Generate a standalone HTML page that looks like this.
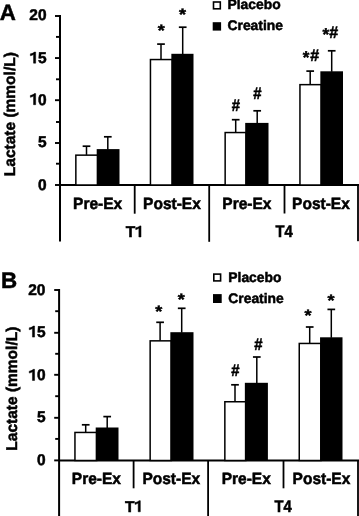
<!DOCTYPE html>
<html><head><meta charset="utf-8"><title>Lactate chart</title>
<style>html,body{margin:0;padding:0;background:#fff;width:359px;height:516px;overflow:hidden}
text{font-family:"Liberation Sans", sans-serif;fill:#000;stroke:#000;stroke-width:0.5px;text-rendering:geometricPrecision}</style></head>
<body>
<div style="filter:grayscale(1);width:359px;height:516px">
<svg width="359" height="516" viewBox="0 0 359 516" style="display:block">
<rect width="359" height="516" fill="#fff"/>
<rect x="59" y="15" width="2" height="226.5" fill="#000"/>
<rect x="55.00" y="184.05" width="5.00" height="1.9" fill="#000"/>
<rect x="56.00" y="162.75" width="4.00" height="1.9" fill="#000"/>
<rect x="55.00" y="142.05" width="5.00" height="1.9" fill="#000"/>
<rect x="56.00" y="121.05" width="4.00" height="1.9" fill="#000"/>
<rect x="55.00" y="99.25" width="5.00" height="1.9" fill="#000"/>
<rect x="56.00" y="78.35" width="4.00" height="1.9" fill="#000"/>
<rect x="55.00" y="57.10" width="5.00" height="1.9" fill="#000"/>
<rect x="56.00" y="35.95" width="4.00" height="1.9" fill="#000"/>
<rect x="55.00" y="15.05" width="5.00" height="1.9" fill="#000"/>
<rect x="60" y="184" width="299.5" height="2" fill="#000"/>
<rect x="133.80" y="185" width="1.8" height="28.70" fill="#000"/>
<rect x="208.30" y="185" width="1.8" height="56.80" fill="#000"/>
<rect x="283.60" y="185" width="1.8" height="28.50" fill="#000"/>
<rect x="357.10" y="185" width="1.8" height="56.20" fill="#000"/>
<rect x="75.85" y="155.15" width="21.85" height="29.85" fill="#fff" stroke="#000" stroke-width="1.5"/>
<rect x="96.70" y="149.10" width="22.80" height="35.90" fill="#000"/>
<rect x="85.75" y="146.20" width="1.5" height="8.70" fill="#000"/>
<rect x="82.65" y="145.35" width="7.7" height="1.7" fill="#000"/>
<rect x="107.05" y="136.80" width="1.5" height="12.80" fill="#000"/>
<rect x="103.95" y="135.95" width="7.7" height="1.7" fill="#000"/>
<rect x="150.45" y="59.55" width="21.90" height="125.45" fill="#fff" stroke="#000" stroke-width="1.5"/>
<rect x="171.35" y="53.80" width="22.15" height="131.20" fill="#000"/>
<rect x="160.25" y="44.10" width="1.5" height="15.20" fill="#000"/>
<rect x="157.15" y="43.25" width="7.7" height="1.7" fill="#000"/>
<rect x="181.95" y="27.20" width="1.5" height="27.10" fill="#000"/>
<rect x="178.85" y="26.35" width="7.7" height="1.7" fill="#000"/>
<rect x="225.15" y="132.55" width="21.05" height="52.45" fill="#fff" stroke="#000" stroke-width="1.5"/>
<rect x="245.20" y="122.90" width="23.30" height="62.10" fill="#000"/>
<rect x="234.95" y="119.70" width="1.5" height="12.60" fill="#000"/>
<rect x="231.85" y="118.85" width="7.7" height="1.7" fill="#000"/>
<rect x="256.45" y="110.80" width="1.5" height="12.60" fill="#000"/>
<rect x="253.35" y="109.95" width="7.7" height="1.7" fill="#000"/>
<rect x="299.95" y="84.65" width="21.40" height="100.35" fill="#fff" stroke="#000" stroke-width="1.5"/>
<rect x="320.35" y="71.30" width="22.65" height="113.70" fill="#000"/>
<rect x="309.45" y="71.10" width="1.5" height="13.30" fill="#000"/>
<rect x="306.35" y="70.25" width="7.7" height="1.7" fill="#000"/>
<rect x="330.95" y="50.80" width="1.5" height="21.00" fill="#000"/>
<rect x="327.85" y="49.95" width="7.7" height="1.7" fill="#000"/>
<rect x="58.1" y="289" width="2" height="227" fill="#000"/>
<rect x="54.20" y="459.45" width="4.90" height="1.9" fill="#000"/>
<rect x="55.20" y="437.95" width="3.90" height="1.9" fill="#000"/>
<rect x="54.20" y="416.85" width="4.90" height="1.9" fill="#000"/>
<rect x="55.20" y="395.25" width="3.90" height="1.9" fill="#000"/>
<rect x="54.20" y="373.85" width="4.90" height="1.9" fill="#000"/>
<rect x="55.20" y="352.85" width="3.90" height="1.9" fill="#000"/>
<rect x="54.20" y="331.85" width="4.90" height="1.9" fill="#000"/>
<rect x="55.20" y="310.25" width="3.90" height="1.9" fill="#000"/>
<rect x="54.20" y="289.05" width="4.90" height="1.9" fill="#000"/>
<rect x="59.1" y="459.5" width="300.4" height="2" fill="#000"/>
<rect x="132.70" y="460.5" width="1.8" height="27.80" fill="#000"/>
<rect x="207.20" y="460.5" width="1.8" height="55.50" fill="#000"/>
<rect x="282.60" y="460.5" width="1.8" height="27.80" fill="#000"/>
<rect x="357.10" y="460.5" width="1.8" height="55.50" fill="#000"/>
<rect x="74.95" y="432.45" width="21.75" height="28.05" fill="#fff" stroke="#000" stroke-width="1.5"/>
<rect x="95.70" y="427.50" width="22.80" height="33.00" fill="#000"/>
<rect x="84.95" y="424.80" width="1.5" height="7.40" fill="#000"/>
<rect x="81.85" y="423.95" width="7.7" height="1.7" fill="#000"/>
<rect x="106.45" y="416.60" width="1.5" height="11.40" fill="#000"/>
<rect x="103.35" y="415.75" width="7.7" height="1.7" fill="#000"/>
<rect x="150.15" y="340.85" width="21.20" height="119.65" fill="#fff" stroke="#000" stroke-width="1.5"/>
<rect x="170.35" y="332.20" width="23.15" height="128.30" fill="#000"/>
<rect x="159.35" y="322.30" width="1.5" height="18.30" fill="#000"/>
<rect x="156.25" y="321.45" width="7.7" height="1.7" fill="#000"/>
<rect x="180.95" y="308.30" width="1.5" height="24.40" fill="#000"/>
<rect x="177.85" y="307.45" width="7.7" height="1.7" fill="#000"/>
<rect x="224.85" y="401.75" width="21.00" height="58.75" fill="#fff" stroke="#000" stroke-width="1.5"/>
<rect x="244.85" y="382.80" width="23.05" height="77.70" fill="#000"/>
<rect x="234.25" y="384.80" width="1.5" height="16.70" fill="#000"/>
<rect x="231.15" y="383.95" width="7.7" height="1.7" fill="#000"/>
<rect x="256.05" y="357.00" width="1.5" height="26.30" fill="#000"/>
<rect x="252.95" y="356.15" width="7.7" height="1.7" fill="#000"/>
<rect x="299.25" y="343.45" width="21.80" height="117.05" fill="#fff" stroke="#000" stroke-width="1.5"/>
<rect x="320.05" y="337.30" width="22.45" height="123.20" fill="#000"/>
<rect x="308.95" y="327.00" width="1.5" height="16.20" fill="#000"/>
<rect x="305.85" y="326.15" width="7.7" height="1.7" fill="#000"/>
<rect x="330.55" y="309.40" width="1.5" height="28.40" fill="#000"/>
<rect x="327.45" y="308.55" width="7.7" height="1.7" fill="#000"/>
<text x="46.6" y="190.10" font-size="15.5" font-weight="bold" text-anchor="end" >0</text>
<text x="46.6" y="147.15" font-size="15.5" font-weight="bold" text-anchor="end" >5</text>
<text x="46.6" y="104.70" font-size="15.5" font-weight="bold" text-anchor="end" >0</text>
<path d="M35.67,104.70 L35.67,93.60 L34.29,93.60 C33.86,94.47 32.46,95.09 30.37,95.40 L30.37,97.34 C31.53,97.11 32.77,96.64 33.55,96.02 L33.55,104.70 Z" fill="#000" stroke="#000" stroke-width="0.5"/>
<text x="46.6" y="63.15" font-size="15.5" font-weight="bold" text-anchor="end" >5</text>
<path d="M35.67,63.15 L35.67,52.05 L34.29,52.05 C33.86,52.92 32.46,53.54 30.37,53.85 L30.37,55.79 C31.53,55.56 32.77,55.09 33.55,54.47 L33.55,63.15 Z" fill="#000" stroke="#000" stroke-width="0.5"/>
<text x="46.6" y="20.00" font-size="15.5" font-weight="bold" text-anchor="end" >20</text>
<text x="0" y="0" font-size="15.5" font-weight="bold" text-anchor="middle" transform="translate(14.9,114.2) rotate(-90)">Lactate (mmol/L)</text>
<rect x="213.50" y="2.00" width="6.8" height="6.8" fill="#fff" stroke="#000" stroke-width="1.6"/>
<rect x="212.7" y="22.20" width="8.4" height="8.4" fill="#000"/>
<text x="227.5" y="9.200000000000001" font-size="13.85" font-weight="bold" text-anchor="start" >Placebo</text>
<text x="227.5" y="30.0" font-size="13.85" font-weight="bold" text-anchor="start" >Creatine</text>
<text x="45.5" y="464.70" font-size="15.5" font-weight="bold" text-anchor="end" >0</text>
<text x="45.5" y="422.07" font-size="15.5" font-weight="bold" text-anchor="end" >5</text>
<text x="45.5" y="380.45" font-size="15.5" font-weight="bold" text-anchor="end" >0</text>
<path d="M34.57,380.45 L34.57,369.35 L33.19,369.35 C32.76,370.22 31.36,370.84 29.27,371.15 L29.27,373.09 C30.43,372.85 31.67,372.39 32.45,371.77 L32.45,380.45 Z" fill="#000" stroke="#000" stroke-width="0.5"/>
<text x="45.5" y="337.12" font-size="15.5" font-weight="bold" text-anchor="end" >5</text>
<path d="M34.57,337.12 L34.57,326.03 L33.19,326.03 C32.76,326.89 31.36,327.51 29.27,327.82 L29.27,329.76 C30.43,329.53 31.67,329.06 32.45,328.44 L32.45,337.12 Z" fill="#000" stroke="#000" stroke-width="0.5"/>
<text x="45.5" y="294.70" font-size="15.5" font-weight="bold" text-anchor="end" >20</text>
<text x="0" y="0" font-size="15.5" font-weight="bold" text-anchor="middle" transform="translate(17.1,388.7) rotate(-90)">Lactate (mmol/L)</text>
<rect x="213.80" y="274.10" width="6.8" height="6.8" fill="#fff" stroke="#000" stroke-width="1.6"/>
<rect x="213.0" y="294.10" width="8.7" height="8.9" fill="#000"/>
<text x="228.3" y="281.59999999999997" font-size="13.85" font-weight="bold" text-anchor="start" >Placebo</text>
<text x="228.3" y="302.7" font-size="13.85" font-weight="bold" text-anchor="start" >Creatine</text>
<text x="0" y="0" font-size="15.5" font-weight="bold" text-anchor="middle" transform="translate(97.65,209.1) scale(1,1.05)">Pre-Ex</text>
<text x="0" y="0" font-size="15.5" font-weight="bold" text-anchor="middle" transform="translate(171.95,209.1) scale(1,1.05)">Post-Ex</text>
<text x="0" y="0" font-size="15.5" font-weight="bold" text-anchor="middle" transform="translate(246.85,209.1) scale(1,1.05)">Pre-Ex</text>
<text x="0" y="0" font-size="15.5" font-weight="bold" text-anchor="middle" transform="translate(320.95,209.1) scale(1,1.05)">Post-Ex</text>
<text x="0" y="0" font-size="15.5" font-weight="bold" transform="translate(125.70,237.0) scale(1,1.0)">T</text>
<path d="M141.01,237.00 L141.01,225.90 L139.63,225.90 C139.19,226.77 137.80,227.39 135.71,227.70 L135.71,229.64 C136.87,229.41 138.11,228.94 138.88,228.32 L138.88,237.00 Z" fill="#000" stroke="#000" stroke-width="0.5"/>
<text x="0" y="0" font-size="15.5" font-weight="bold" text-anchor="middle" transform="translate(284.10,237.0) scale(0.95,1.08)">T4</text>
<text x="0" y="0" font-size="15.5" font-weight="bold" text-anchor="middle" transform="translate(96.35,484.3) scale(1,1.05)">Pre-Ex</text>
<text x="0" y="0" font-size="15.5" font-weight="bold" text-anchor="middle" transform="translate(171.25,484.3) scale(1,1.05)">Post-Ex</text>
<text x="0" y="0" font-size="15.5" font-weight="bold" text-anchor="middle" transform="translate(246.25,484.3) scale(1,1.05)">Pre-Ex</text>
<text x="0" y="0" font-size="15.5" font-weight="bold" text-anchor="middle" transform="translate(321.45,484.3) scale(1,1.05)">Post-Ex</text>
<text x="0" y="0" font-size="15.5" font-weight="bold" transform="translate(124.90,511.8) scale(1,1.0)">T</text>
<path d="M140.31,511.80 L140.31,500.70 L138.93,500.70 C138.50,501.57 137.10,502.19 135.01,502.50 L135.01,504.44 C136.17,504.20 137.41,503.74 138.19,503.12 L138.19,511.80 Z" fill="#000" stroke="#000" stroke-width="0.5"/>
<text x="0" y="0" font-size="15.5" font-weight="bold" text-anchor="middle" transform="translate(283.20,511.8) scale(0.95,1.08)">T4</text>
<text x="-0.2" y="19.6" font-size="22.3" font-weight="bold" text-anchor="start" >A</text>
<text x="0.9" y="288.2" font-size="22.4" font-weight="bold" text-anchor="start" >B</text>
<text x="0" y="0" font-size="18" font-weight="bold" text-anchor="middle" transform="translate(161.2,35.8) scale(1,0.92)">*</text>
<text x="0" y="0" font-size="18" font-weight="bold" text-anchor="middle" transform="translate(182.5,19.9) scale(1,0.92)">*</text>
<text x="0" y="0" font-size="16" font-weight="bold" text-anchor="middle" transform="translate(236.0,111.1) scale(0.93,1.05)">#</text>
<text x="0" y="0" font-size="16" font-weight="bold" text-anchor="middle" transform="translate(257.3,99.4) scale(0.93,1.05)">#</text>
<text x="306.0" y="63.2" font-size="17" font-weight="bold" text-anchor="middle" >*</text>
<text x="0" y="0" font-size="16" font-weight="bold" text-anchor="middle" transform="translate(314.6,61.3) scale(1.0,1.05)">#</text>
<text x="325.7" y="40.0" font-size="17" font-weight="bold" text-anchor="middle" >*</text>
<text x="0" y="0" font-size="16" font-weight="bold" text-anchor="middle" transform="translate(333.7,37.5) scale(1.0,1.05)">#</text>
<text x="0" y="0" font-size="18" font-weight="bold" text-anchor="middle" transform="translate(158.7,317.3) scale(1,0.92)">*</text>
<text x="0" y="0" font-size="18" font-weight="bold" text-anchor="middle" transform="translate(181.3,304.6) scale(1,0.92)">*</text>
<text x="0" y="0" font-size="16" font-weight="bold" text-anchor="middle" transform="translate(235.5,375.8) scale(0.93,1.05)">#</text>
<text x="0" y="0" font-size="16" font-weight="bold" text-anchor="middle" transform="translate(258.4,350.0) scale(0.93,1.05)">#</text>
<text x="0" y="0" font-size="18" font-weight="bold" text-anchor="middle" transform="translate(308.0,320.6) scale(1,0.92)">*</text>
<text x="0" y="0" font-size="18" font-weight="bold" text-anchor="middle" transform="translate(331.1,306.1) scale(1,0.92)">*</text>
</svg>
</div>
</body></html>
